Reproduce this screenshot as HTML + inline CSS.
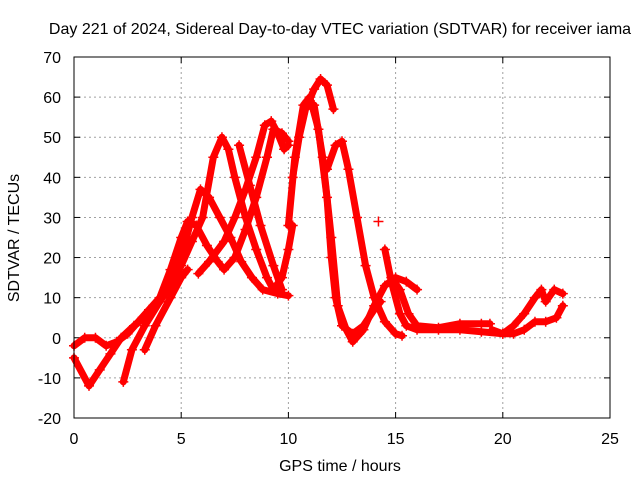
<!DOCTYPE html>
<html><head><meta charset="utf-8"><style>
body{margin:0;background:#fff;}
svg text{font-family:"Liberation Sans",sans-serif;font-size:16px;fill:#000;}
</style></head><body>
<svg id="chart" width="640" height="480" xmlns="http://www.w3.org/2000/svg">
<text x="340" y="34" text-anchor="middle">Day 221 of 2024, Sidereal Day-to-day VTEC variation (SDTVAR) for receiver iama</text>
<text transform="translate(19,238) rotate(-90)" text-anchor="middle">SDTVAR / TECUs</text>
<text x="340" y="471" text-anchor="middle">GPS time / hours</text>
<g id="grid"></g><g id="ticks"></g><g id="series"></g>
<rect x="74" y="57" width="536" height="361" fill="none" stroke="#000" stroke-width="1"/>
</svg>
<script>
const xTicks=[0,5,10,15,20,25];
const yTicks=[-20,-10,0,10,20,30,40,50,60,70];
const s1=[[0,-2],[0.5,0],[1,0],[1.5,-2],[2,-1],[2.5,1],[3,4],[3.5,7],[4,10],[4.5,17],[5,25],[5.3,29],[5.7,28],[6.2,23],[6.7,19],[7,17],[7.5,20],[8,27],[8.5,35],[9,45],[9.3,52],[9.7,51],[10,49]];
const s2=[[0,-5],[0.7,-12],[1.2,-8],[1.7,-4],[2.2,0],[2.8,3],[3.5,6],[4,9],[4.5,14],[5,20],[5.5,30],[5.9,37],[6.3,35],[6.8,30],[7.3,25],[7.8,19],[8.3,15],[8.8,12],[9.5,11],[10,10.5]];
const s3=[[2.3,-11],[2.7,-3],[3.3,3],[4,9],[4.5,13],[5,18],[5.5,24],[6,30],[6.5,45],[6.9,50],[7.2,47],[7.5,40],[8,30],[8.5,22],[9,15],[9.3,12],[9.7,15],[10,22],[10.2,28]];
const s4=[[3.3,-3],[3.8,3],[4.5,10],[5,15],[5.3,17]];
const s5=[[5.8,16],[6.3,19],[7,24],[7.5,30],[8,37],[8.5,45],[8.9,53],[9.2,54],[9.5,51],[9.8,47],[10,48]];
const s6=[[7.7,48],[8.2,38],[8.7,28],[9.3,18],[9.7,12]];
const s7=[[10.2,40],[10.5,50],[10.8,57],[11.2,62],[11.5,64.5],[11.8,63],[12.1,57]];
const s8=[[10,28],[10.3,45],[10.7,58],[11,60],[11.4,52],[11.8,35],[12,20],[12.2,10],[12.5,3],[13,1],[13.5,3],[14,7],[14.3,9]];
const s9=[[11.2,58],[11.6,45],[12,25],[12.3,8],[12.7,2],[13,-1],[13.5,2],[14,8],[14.5,13],[15,15],[15.5,14],[16,12]];
const s10=[[11.8,42],[12.2,48],[12.5,49],[12.8,42],[13.2,30],[13.6,18],[14,10],[14.5,4],[15,1],[15.3,0.5]];
const s11=[[14.5,22],[14.8,14],[15.2,6],[15.5,3],[16,2],[17,2],[18,2],[19,1.5],[20,1],[20.5,1],[21,2],[21.5,4],[22,4],[22.5,5],[22.8,8]];
const s12=[[14.8,15],[15.2,12],[15.6,6],[16,3],[17,2.5],[18,3.5],[19,3.5],[19.4,3.5]];
const s13=[[19.5,2],[20,1],[20.5,3],[21,6],[21.5,10],[21.8,12],[22,9],[22.4,12],[22.8,11]];
const s14=[[14.2,29]];
const allSeries=[s1,s2,s3,s4,s5,s6,s7,s8,s9,s10,s11,s12,s13,s14];
const X=v=>74+v*536/25, Y=v=>418-(v+20)*361/90;
const NS="http://www.w3.org/2000/svg";
function mk(t,a,p){const e=document.createElementNS(NS,t);for(const k in a)e.setAttribute(k,a[k]);p.appendChild(e);return e;}
const grid=document.getElementById('grid'),ticks=document.getElementById('ticks'),ser=document.getElementById('series');
xTicks.forEach(t=>{
 if(t>0&&t<25){const g=mk('line',{x1:X(t),x2:X(t),y1:57,y2:418,stroke:'#a0a0a0','stroke-dasharray':'2,3'},grid);
 
 }
 const l=mk('line',{x1:X(t),x2:X(t),y1:418,y2:412,stroke:'#000'},ticks);
 
 
 const l2=mk('line',{x1:X(t),x2:X(t),y1:57,y2:63,stroke:'#000'},ticks);
 
 
 const tx=mk('text',{x:X(t),y:444,'text-anchor':'middle'},ticks);tx.textContent=t;
 
 
});
yTicks.forEach(t=>{
 if(t>-20&&t<70){const g=mk('line',{x1:74,x2:610,y1:Y(t),y2:Y(t),stroke:'#a0a0a0','stroke-dasharray':'2,3'},grid);
 
 }
 const l=mk('line',{x1:74,x2:80,y1:Y(t),y2:Y(t),stroke:'#000'},ticks);
 
 
 const l2=mk('line',{x1:604,x2:610,y1:Y(t),y2:Y(t),stroke:'#000'},ticks);
 
 
 const tx=mk('text',{x:61,y:Y(t)+6,'text-anchor':'end'},ticks);tx.textContent=t;
 
 
});
allSeries.forEach((s,i)=>{
 const pl=mk('polyline',{points:s.map(p=>X(p[0])+','+Y(p[1])).join(' '),fill:'none',stroke:'#f00','stroke-width':7,'stroke-linejoin':'round','stroke-linecap':'round'},ser);
 
 
 s.forEach(p=>{const x=X(p[0]),y=Y(p[1]);
  const m=mk('path',{d:`M${x-5},${y}H${x+5}M${x},${y-5}V${y+5}`,stroke:'#f00','stroke-width':1.5},ser);
  
  
 });
});
</script>
</body></html>
